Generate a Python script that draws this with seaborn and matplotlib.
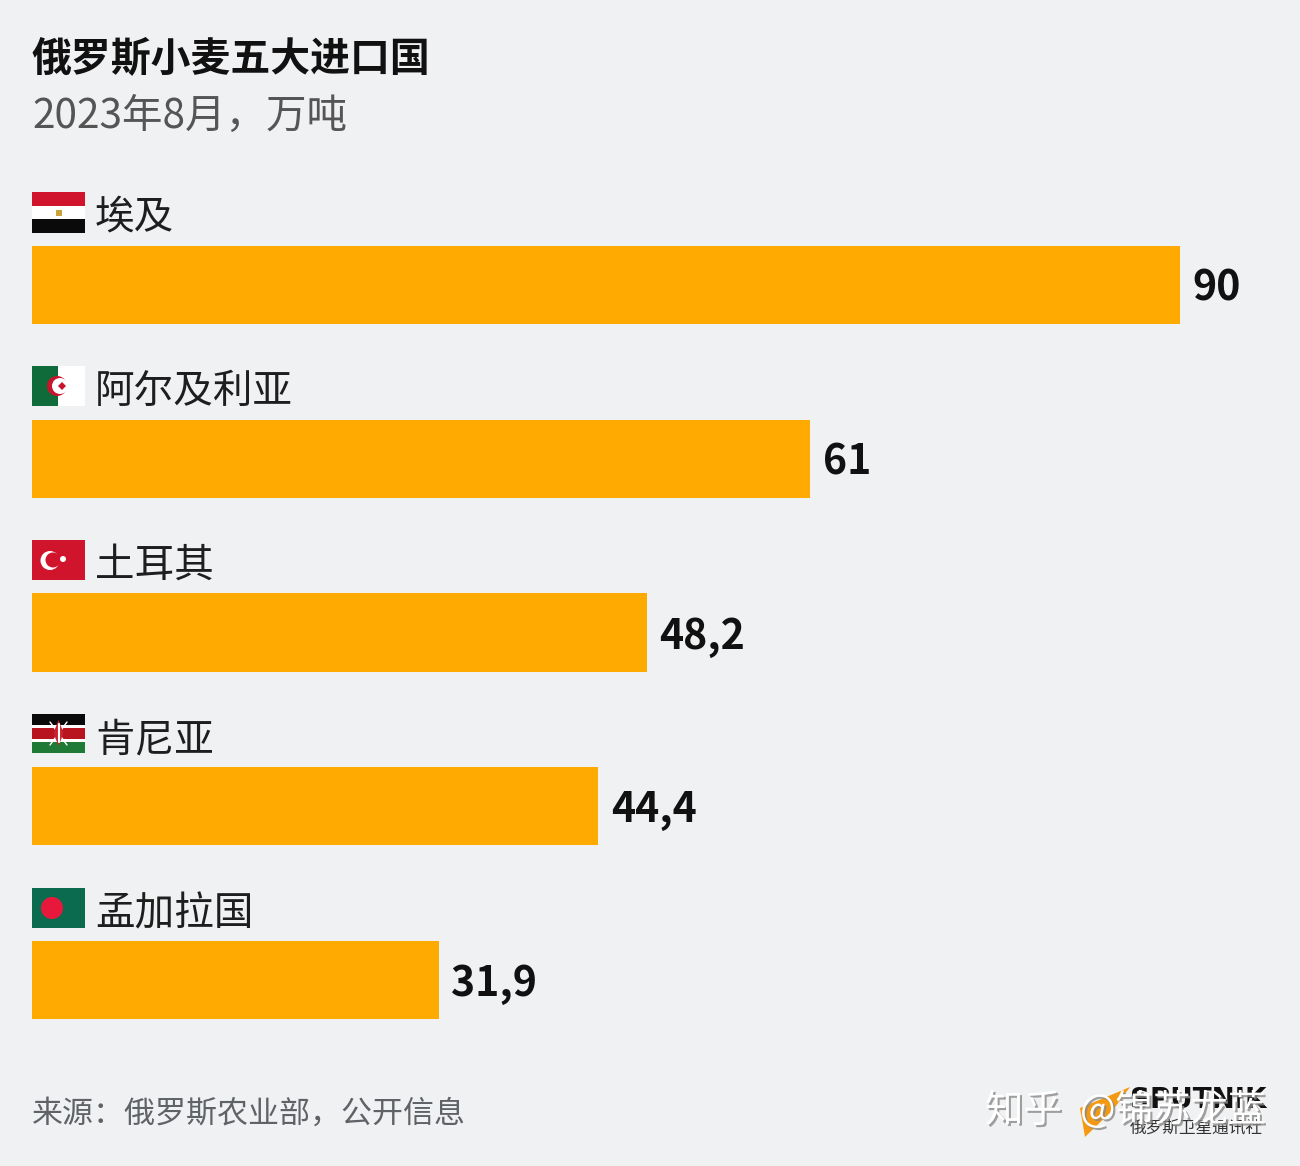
import pandas as pd
import matplotlib.pyplot as plt
import matplotlib.patheffects as pe
from matplotlib.patches import Rectangle, Circle, Polygon
import seaborn as sns

countries = ['埃及', '阿尔及利亚', '土耳其', '肯尼亚', '孟加拉国']
tonnes = [90, 61, 48.2, 44.4, 31.9]
value_labels = ['90', '61', '48,2', '44,4', '31,9']

title = '俄罗斯小麦五大进口国'
subtitle = '2023年8月，万吨'
source = '来源：俄罗斯农业部，公开信息'

BG = '#F0F1F3'
BAR = '#FFAA00'
W, H = 1300, 1166

sns.set_theme(style='white')
plt.rcParams['font.family'] = ['Noto Sans CJK SC', 'DejaVu Sans']

df = pd.DataFrame({'country': countries, 'tonnes': tonnes})

fig = plt.figure(figsize=(W / 100, H / 100), dpi=100, facecolor=BG)

# bars: 0-90 runs from x=32 to x=1180, rows are 173.75px apart
ax = fig.add_axes([32 / W, 1 - 1067 / H, 1148 / W, 869.0 / H])
ax.set_facecolor('none')
sns.barplot(data=df, x='tonnes', y='country', color=BAR, saturation=1, width=0.449,
            edgecolor=BAR, linewidth=0, ax=ax)
ax.set_xlim(0, 90)
ax.set_ylim(4.5, -0.5)
ax.set_xlabel('')
ax.set_ylabel('')
ax.set_xticks([])
ax.set_yticks([])
sns.despine(ax=ax, left=True, bottom=True)
labels = ax.bar_label(ax.containers[0], labels=value_labels, padding=9, fontsize=29.5,
                      fontweight='bold', color='#111111', clip_on=False)
for t in labels:
    t.xyann = (t.xyann[0], t.xyann[1] - 2.9)

# overlay in pixel coords for the text and flags
ov = fig.add_axes([0, 0, 1, 1], zorder=5)
ov.set_xlim(0, W)
ov.set_ylim(H, 0)
ov.axis('off')

ov.text(32, 59, title, fontsize=28.7, fontweight='bold', color='#111111', va='center')
ov.text(32, 116, subtitle, fontsize=29.2, color='#555555', va='center')
ov.text(32, 1114, source, fontsize=22.3, color='#5F6266', va='center')

label_y = [218, 392, 566, 740, 914]
for name, y in zip(countries, label_y):
    ov.text(95, y, name, fontsize=28.5, color='#1E1E1E', va='center')


def rect(x, y, w, h, c):
    ov.add_patch(Rectangle((x, y), w, h, color=c, lw=0))


# Egypt
rect(32, 192, 53, 14, '#D0142C')
rect(32, 206, 53, 13, '#FFFFFF')
rect(32, 219, 53, 14, '#0A0A0A')
rect(56, 210, 6, 6, '#C9A43C')

# Algeria
rect(32, 366, 26, 40, '#0F6B3A')
rect(58, 366, 27, 40, '#FFFFFF')
ov.add_patch(Circle((57, 386), 10, color='#C8142C', lw=0))
ov.add_patch(Circle((60, 386), 8, color='#FFFFFF', lw=0))
ov.add_patch(Polygon([(58, 386), (62, 382), (66, 386), (62, 390)], color='#C8142C', lw=0))

# Turkey
rect(32, 540, 53, 40, '#D0142C')
ov.add_patch(Circle((50, 560.5), 9.5, color='#FFFFFF', lw=0))
ov.add_patch(Circle((53, 560), 7.5, color='#D0142C', lw=0))
ov.add_patch(Circle((63, 559), 3, color='#FFFFFF', lw=0))

# Kenya
rect(32, 714, 53, 11, '#0A0A0A')
rect(32, 725, 53, 3, '#FFFFFF')
rect(32, 728, 53, 11, '#B8141F')
rect(32, 739, 53, 3, '#FFFFFF')
rect(32, 742, 53, 11, '#1E7A34')
ov.plot([50, 67], [722, 745], color='#FFFFFF', lw=1)
ov.plot([67, 50], [722, 745], color='#FFFFFF', lw=1)
ov.add_patch(Polygon([(58.5, 720), (63.5, 733), (58.5, 746), (53.5, 733)], color='#C8232C', lw=0, zorder=3))
ov.plot([58.5, 58.5], [724, 742], color='#FFFFFF', lw=1.5, zorder=4)

# Bangladesh
rect(32, 888, 53, 40, '#0B6B4F')
ov.add_patch(Circle((52, 908), 11, color='#E8173C', lw=0))

# Sputnik mark, bottom right
ov.add_patch(Polygon([(1130, 1087), (1080, 1108), (1085, 1137), (1113, 1110)], color='#F39A12', lw=0))
ov.text(1130, 1100, 'SPUTNIK', fontsize=20, fontweight='bold', color='#111111', va='center',
        family=['DejaVu Sans'])
ov.text(1130, 1128, '俄罗斯卫星通讯社', fontsize=12, color='#333333', va='center')

# site watermark sits on top, white with a soft grey shadow
shadow = [pe.withSimplePatchShadow(offset=(1.5, -1.5), shadow_rgbFace='#8A8A8A', alpha=0.8)]
ov.text(985, 1111, '知乎', fontsize=27.7, color='#FFFFFF', va='center', zorder=8, path_effects=shadow)
ov.text(1080, 1111, '@锦苏龙蓝', fontsize=27, color='#FFFFFF', va='center', zorder=8, path_effects=shadow)

fig.savefig('out.png', dpi=100, facecolor=BG)
